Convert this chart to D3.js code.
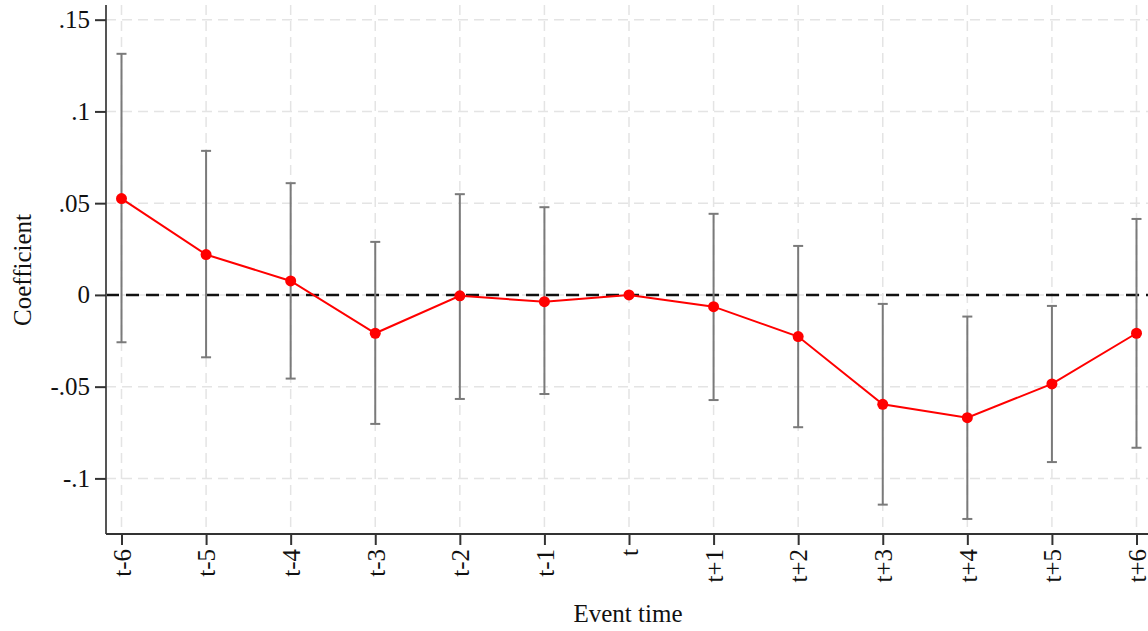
<!DOCTYPE html>
<html>
<head>
<meta charset="utf-8" />
<title>Event study</title>
<script src="https://d3js.org/d3.v7.min.js"></script>
<style>
  body { margin: 0; background: #fff; }
  text { font-family: "Liberation Serif", "Times New Roman", serif; fill: #111; }
</style>
</head>
<body>
<svg id="chart" width="1148" height="631"></svg>
<script>
// event time categories
var periods = ["t-6","t-5","t-4","t-3","t-2","t-1","t","t+1","t+2","t+3","t+4","t+5","t+6"];
// point estimates
var coef = [0.0525, 0.0220, 0.0076, -0.0209, -0.0005, -0.0037, 0, -0.0064, -0.0227, -0.0596, -0.0669, -0.0485, -0.0209];
// confidence interval bounds
var ciHigh = [0.1314, 0.0785, 0.0609, 0.0289, 0.0549, 0.0478, 0, 0.0442, 0.0267, -0.0049, -0.0118, -0.0060, 0.0414];
var ciLow = [-0.0258, -0.0340, -0.0456, -0.0703, -0.0567, -0.0540, 0, -0.0573, -0.0721, -0.1143, -0.1221, -0.0911, -0.0833];
// y ticks
var yTicks = [0.15, 0.1, 0.05, 0, -0.05, -0.1];
var yTickLabels = [".15", ".1", ".05", "0", "-.05", "-.1"];

var svg = d3.select("#chart");
var pLeft = 106, pRight = 1148, pTop = 5, pBottom = 534;

var x = d3.scalePoint().domain(periods).range([121.5, 1136.5]);
var y = d3.scaleLinear().domain([-0.1303, 0.158]).range([pBottom, pTop]);

var rows = periods.map(function(p, i) {
  return {p: p, c: coef[i], hi: ciHigh[i], lo: ciLow[i]};
});

// grid lines
svg.append("g").selectAll("line").data(yTicks).enter().append("line")
  .attr("x1", pLeft).attr("x2", pRight)
  .attr("y1", function(d) { return y(d); }).attr("y2", function(d) { return y(d); })
  .attr("stroke", "#e4e4e4").attr("stroke-width", 1.5).attr("stroke-dasharray", "10,6");
svg.append("g").selectAll("line").data(periods).enter().append("line")
  .attr("x1", function(d) { return x(d); }).attr("x2", function(d) { return x(d); })
  .attr("y1", pTop).attr("y2", pBottom)
  .attr("stroke", "#e4e4e4").attr("stroke-width", 1.5).attr("stroke-dasharray", "10,6");

// zero reference line
svg.append("line")
  .attr("x1", pLeft).attr("x2", pRight).attr("y1", y(0)).attr("y2", y(0))
  .attr("stroke", "#111").attr("stroke-width", 2.5).attr("stroke-dasharray", "13,7");

// error bars
var ci = rows.filter(function(d) { return d.hi !== d.lo; });
var eb = svg.append("g").attr("stroke", "#7a7a7a").attr("stroke-width", 2);
eb.selectAll(".v").data(ci).enter().append("line")
  .attr("x1", function(d) { return x(d.p); }).attr("x2", function(d) { return x(d.p); })
  .attr("y1", function(d) { return y(d.hi); }).attr("y2", function(d) { return y(d.lo); });
eb.selectAll(".capH").data(ci).enter().append("line")
  .attr("x1", function(d) { return x(d.p) - 5; }).attr("x2", function(d) { return x(d.p) + 5; })
  .attr("y1", function(d) { return y(d.hi); }).attr("y2", function(d) { return y(d.hi); });
eb.selectAll(".capL").data(ci).enter().append("line")
  .attr("x1", function(d) { return x(d.p) - 5; }).attr("x2", function(d) { return x(d.p) + 5; })
  .attr("y1", function(d) { return y(d.lo); }).attr("y2", function(d) { return y(d.lo); });

// coefficient line + markers
var line = d3.line().x(function(d) { return x(d.p); }).y(function(d) { return y(d.c); });
svg.append("path").datum(rows).attr("d", line)
  .attr("fill", "none").attr("stroke", "#ff0000").attr("stroke-width", 2);
svg.append("g").selectAll("circle").data(rows).enter().append("circle")
  .attr("cx", function(d) { return x(d.p); }).attr("cy", function(d) { return y(d.c); })
  .attr("r", 5.5).attr("fill", "#ff0000");

// y axis
var yAxis = d3.axisLeft(y).tickValues(yTicks).tickSize(11).tickPadding(5)
  .tickFormat(function(d, i) { return yTickLabels[i]; });
var gy = svg.append("g").attr("transform", "translate(" + pLeft + ",0)").call(yAxis);
gy.select(".domain").attr("d", "M0," + pTop + "V" + pBottom).attr("stroke", "#555").attr("stroke-width", 2);
gy.selectAll(".tick line").attr("stroke", "#333").attr("stroke-width", 2);
gy.selectAll(".tick text").attr("font-size", 25).attr("font-family", "Liberation Serif").attr("fill", "#111");

// x axis
var xAxis = d3.axisBottom(x).tickSize(11).tickPadding(4);
var gx = svg.append("g").attr("transform", "translate(0," + pBottom + ")").call(xAxis);
gx.select(".domain").attr("d", "M" + pLeft + ",0H" + pRight).attr("stroke", "#333").attr("stroke-width", 2);
gx.selectAll(".tick line").attr("stroke", "#333").attr("stroke-width", 2);
gx.selectAll(".tick text")
  .attr("font-size", 25).attr("font-family", "Liberation Serif").attr("fill", "#111")
  .attr("text-anchor", "end")
  .attr("transform", "rotate(-90)")
  .attr("x", -15).attr("y", 0).attr("dy", "0.35em");

// axis titles
svg.append("text").attr("x", 628).attr("y", 622).attr("text-anchor", "middle")
  .attr("font-size", 25).text("Event time");
svg.append("text").attr("transform", "translate(31,270) rotate(-90)")
  .attr("text-anchor", "middle").attr("font-size", 25).text("Coefficient");
</script>
</body>
</html>
